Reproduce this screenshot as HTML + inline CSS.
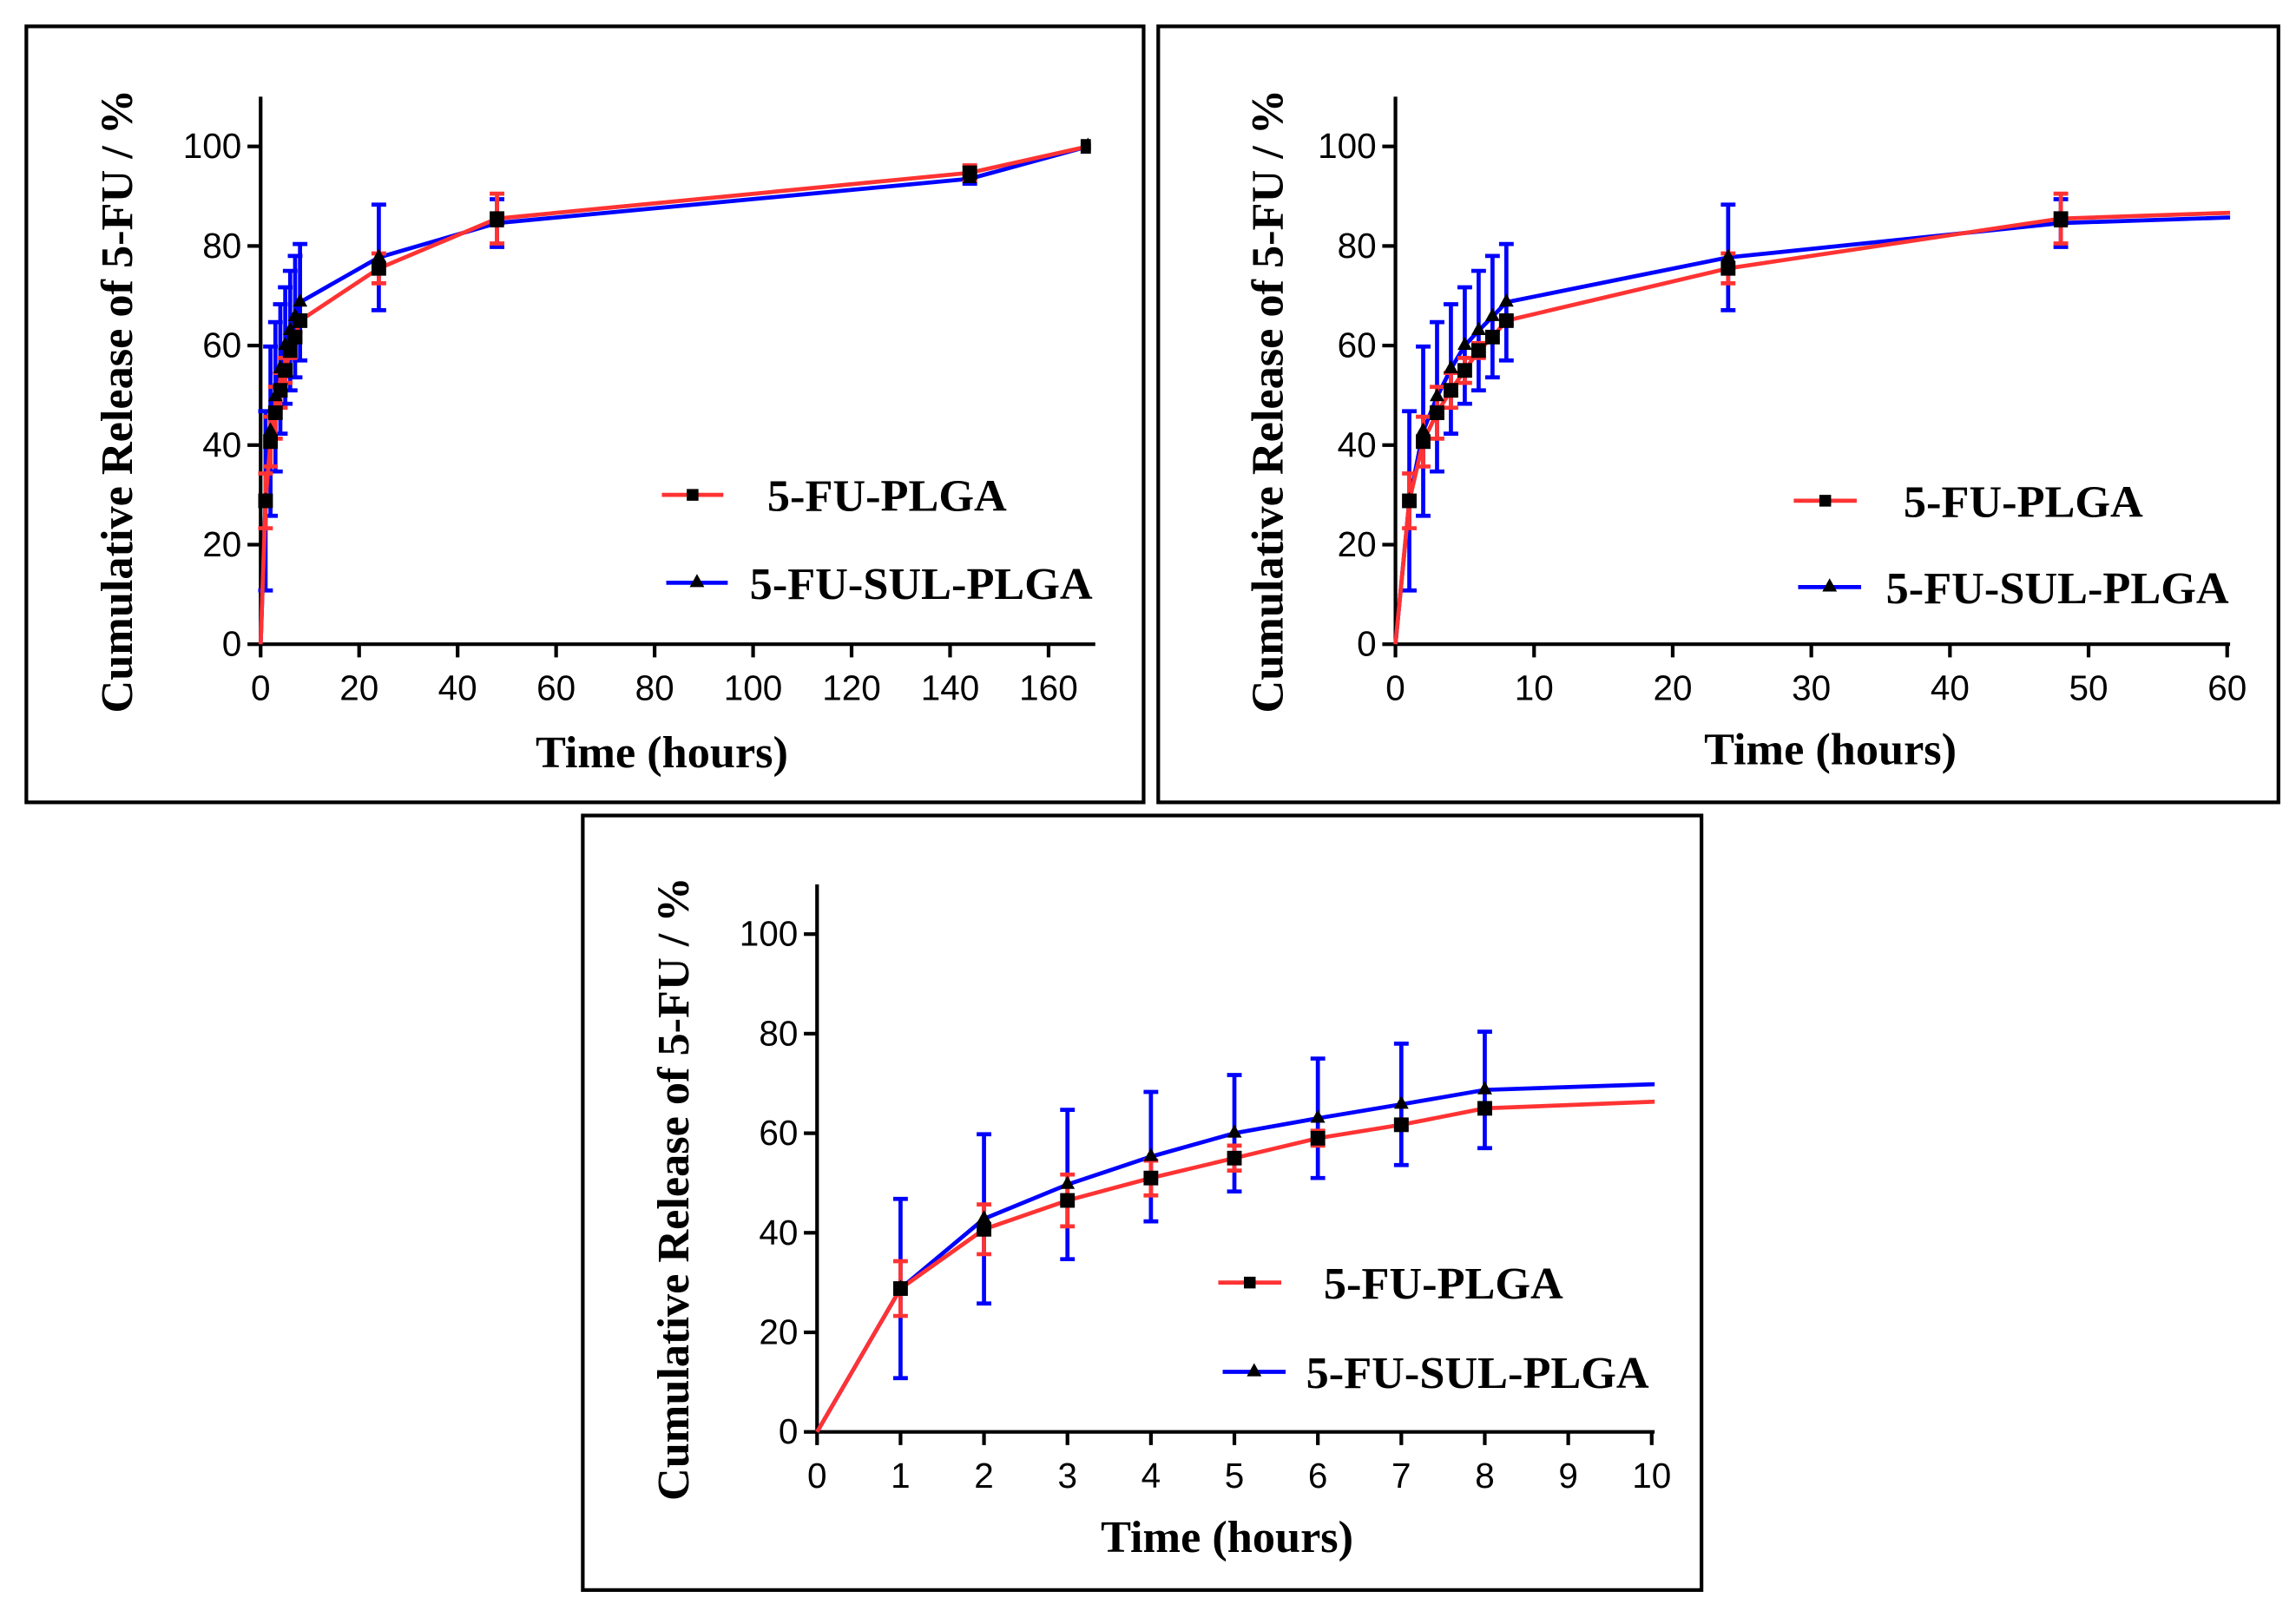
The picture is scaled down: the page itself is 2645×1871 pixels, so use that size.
<!DOCTYPE html>
<html><head><meta charset="utf-8"><style>
html,body{margin:0;padding:0;background:#fff;}
svg{display:block;}
.tk{font-family:"Liberation Sans",sans-serif;font-size:24px;fill:#000;}
.ti{font-family:"Liberation Serif",serif;font-weight:bold;font-size:31px;fill:#000;}
</style></head><body>
<svg id="fig" xmlns="http://www.w3.org/2000/svg" width="2645" height="1871" viewBox="0 0 1568 1109.2" preserveAspectRatio="none"></svg>
<script>
const times=[0,1,2,3,4,5,6,7,8,24,48,144,168];
const plga=[0,28.8,40.7,46.5,51,55,59,61.7,65,75.5,85.5,94.7,100];
const plgaErr=[0,5.5,5,5.2,3.5,2.5,1.5,0.8,0.8,3,5,1.5,0];
const sul=[0,28.8,42.8,49.7,55.3,60,63,65.8,68.7,77.7,84.6,93.5,100];
const sulErr=[0,18,17,15,13,11.7,12,12.2,11.7,10.6,4.8,1,0];
const yTicks=[0,20,40,60,80,100];
const panels=[
 {name:'panel-full',box:[18,18,763,530],x0:178,x1:743,xmax:168,y0:440,y100:100,ytop:66,xend:748,xticks:[0,20,40,60,80,100,120,140,160],ytx:80,yty:274,xtx:452,xty:524,leg:[[452,494,338,524],[455,497,398,512]]},
 {name:'panel-60h',box:[791,18,765,530],x0:953,x1:1521,xmax:60,y0:440,y100:100,ytop:66,xend:1523,xticks:[0,10,20,30,40,50,60],ytx:866,yty:274,xtx:1250,xty:522,leg:[[1225,1268,342,1300],[1228,1271,401,1288]]},
 {name:'panel-10h',box:[398,557,764,529],x0:558,x1:1128,xmax:10,y0:978,y100:638,ytop:604,xend:1130,xticks:[0,1,2,3,4,5,6,7,8,9,10],ytx:460,yty:812,xtx:838,xty:1060,leg:[[832,875,876,904],[835,878,937,892]]}
];
const NS='http://www.w3.org/2000/svg';
const svg=document.getElementById('fig');
function mk(tag,at,parent){const e=document.createElementNS(NS,tag);for(const k in at)e.setAttribute(k,at[k]);(parent||svg).appendChild(e);return e;}
panels.forEach((p,pi)=>{
 const g=mk('g',{});
 
 
 const bx=mk('rect',{x:p.box[0],y:p.box[1],width:p.box[2],height:p.box[3],fill:'none',stroke:'#000','stroke-width':2.5},g);
 
 
 const X=v=>p.x0+(v/p.xmax)*(p.x1-p.x0);
 const Y=v=>p.y0-(v/100)*(p.y0-p.y100);
 const clipId='c'+pi;
 const cp=mk('clipPath',{id:clipId},g);
 mk('rect',{x:p.x0-2,y:p.ytop,width:p.x1-p.x0+4,height:p.y0-p.ytop+20},cp);
 const ya=mk('line',{x1:p.x0,y1:p.ytop,x2:p.x0,y2:p.y0,stroke:'#000','stroke-width':2.5},g);
 
 
 const xa=mk('line',{x1:p.x0,y1:p.y0,x2:p.xend,y2:p.y0,stroke:'#000','stroke-width':2.5},g);
 
 
 yTicks.forEach(t=>{
  mk('line',{x1:p.x0-9,y1:Y(t),x2:p.x0,y2:Y(t),stroke:'#000','stroke-width':2.5},g);
  const tx=mk('text',{x:p.x0-13,y:Y(t)+8,'text-anchor':'end',class:'tk'},g);tx.textContent=t;
  
  
 });
 p.xticks.forEach(t=>{
  mk('line',{x1:X(t),y1:p.y0,x2:X(t),y2:p.y0+9,stroke:'#000','stroke-width':2.5},g);
  const tx=mk('text',{x:X(t),y:p.y0+38,'text-anchor':'middle',class:'tk'},g);tx.textContent=t;
  
  
 });
 const yt=mk('text',{x:0,y:0,'text-anchor':'middle',class:'ti',transform:`translate(${p.ytx+10},${p.yty}) rotate(-90)`},g);
 yt.textContent='Cumulative Release of 5-FU / %';
 
 
 const xt=mk('text',{x:p.xtx,y:p.xty,'text-anchor':'middle',class:'ti'},g);
 xt.textContent='Time (hours)';
 
 
 const plot=mk('g',{'clip-path':`url(#${clipId})`},g);
 const series=[[sul,sulErr,'#0000ff','tri','series-5fu-sul-plga'],[plga,plgaErr,'#ff3333','sq','series-5fu-plga']];
 series.forEach(([vals,errs,col,m,nm])=>{
  const sg=mk('g',{},plot);
  
  
  times.forEach((t,i)=>{
   if(errs[i]<=0||t>p.xmax)return;
   const x=X(t),a=Y(vals[i]+errs[i]),b=Y(vals[i]-errs[i]);
   const eb=mk('path',{d:`M${x},${a}V${b}M${x-5},${a}h10M${x-5},${b}h10`,stroke:col,'stroke-width':2.8,fill:'none'},sg);
   
   
  });
  const ln=mk('polyline',{points:times.map((t,i)=>X(t)+','+Y(vals[i])).join(' '),stroke:col,'stroke-width':2.8,fill:'none'},sg);
  
  
 });
 series.slice().reverse().forEach(([vals,errs,col,m])=>{
  times.forEach((t,i)=>{
   if(t===0||t>p.xmax)return;
   const x=X(t),y=Y(vals[i]);
   let mkEl;
   if(m==='sq')mkEl=mk('rect',{x:x-5,y:y-5,width:10,height:10,fill:'#000'},plot);
   else mkEl=mk('path',{d:`M${x},${y-6}L${x+5},${y+3}L${x-5},${y+3}Z`,fill:'#000'},plot);
   
   
  });
 });
 const lg=mk('g',{},g);
 
 
 [['#ff3333','sq','5-FU-PLGA'],['#0000ff','tri','5-FU-SUL-PLGA']].forEach(([col,m,label],k)=>{
  const [a,b,y,tx]=p.leg[k];
  const e=mk('g',{},lg);
  
  
  mk('line',{x1:a,y1:y,x2:b,y2:y,stroke:col,'stroke-width':2.8},e);
  const c=(a+b)/2;
  if(m==='sq')mk('rect',{x:c-4,y:y-4,width:8,height:8,fill:'#000'},e);
  else mk('path',{d:`M${c},${y-6}L${c+5},${y+3}L${c-5},${y+3}Z`,fill:'#000'},e);
  const t=mk('text',{x:tx,y:y+11,class:'ti'},e);t.textContent=label;
 });
});
</script>
</body></html>
